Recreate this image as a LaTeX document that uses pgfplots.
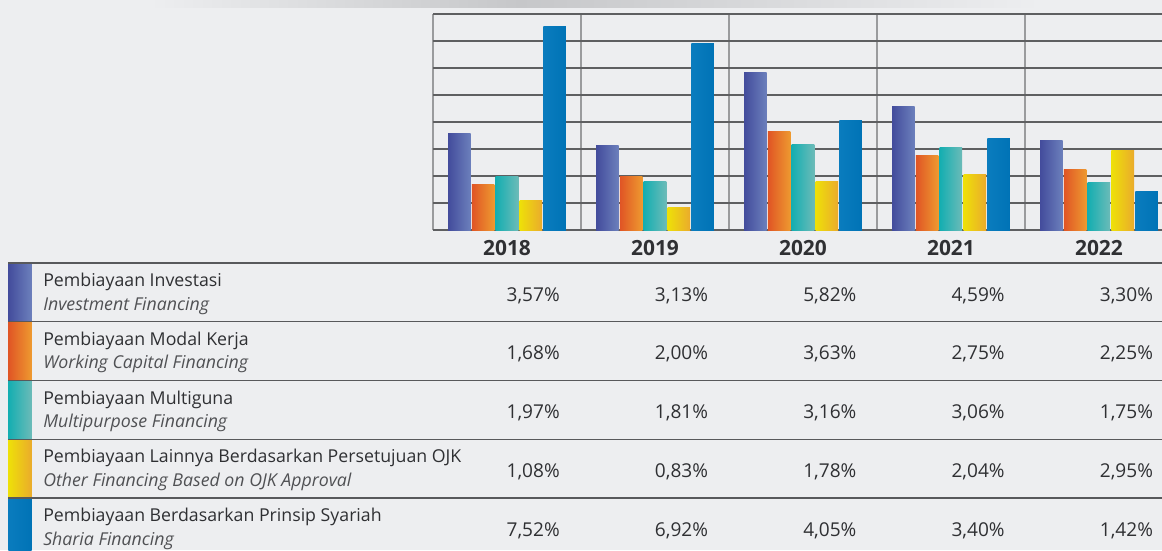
\documentclass[border=0pt]{standalone}
\usepackage{fontspec}
\setmainfont{Open Sans}
\usepackage{pgfplots}
\usepackage{pgfplotstable}
\pgfplotsset{compat=1.18}

\definecolor{bg}{HTML}{EDEEF0}
\definecolor{band}{HTML}{C6C7C9}
\definecolor{gridc}{HTML}{5E5F61}
\definecolor{sepc}{HTML}{9A9B9D}
\definecolor{linec}{HTML}{58595B}
\definecolor{txt}{HTML}{2F3033}
\definecolor{txti}{HTML}{505154}
\definecolor{invL}{HTML}{434C9C}
\definecolor{invR}{HTML}{6C80BC}
\definecolor{wcL}{HTML}{E05525}
\definecolor{wcR}{HTML}{EE9A30}
\definecolor{muL}{HTML}{14AEB1}
\definecolor{muR}{HTML}{6CBBB8}
\definecolor{otL}{HTML}{EEE008}
\definecolor{otR}{HTML}{EAAB2C}
\definecolor{shL}{HTML}{0A7CBE}
\definecolor{shR}{HTML}{0073B6}

% NPF ratio per financing type (%)
\pgfplotstableread{
x inv  wc   mu   ot   sh
0 3.57 1.68 1.97 1.08 7.52
1 3.13 2.00 1.81 0.83 6.92
2 5.82 3.63 3.16 1.78 4.05
3 4.59 2.75 3.06 2.04 3.40
4 3.30 2.25 1.75 2.95 1.42
}\npf

\begin{document}
\begin{tikzpicture}[x=0.75pt,y=-0.75pt]
\path[use as bounding box] (0,0) rectangle (1162,550);
\clip (0,0) rectangle (1162,550);
\fill[bg] (0,0) rectangle (1162,550);
\shade[left color=bg, right color=band] (150,0) rectangle (520,7);
\shade[left color=band, right color=bg] (520,0) rectangle (1040,7);

\begin{axis}[
    at={(324.75pt,-172.5pt)}, anchor=south west,
    scale only axis, width=546.75pt, height=162pt,
    xmin=-0.5, xmax=4.426, ymin=0, ymax=8,
    axis line style={draw=none},
    major tick length=0pt, minor tick length=0pt,
    ytick={0,...,8}, yticklabels={},
    ymajorgrids, major grid style={gridc, line width=0.9pt},
    xtick={0,...,4}, xticklabels={2018,2019,2020,2021,2022},
    minor xtick={-0.5,0.5,1.5,2.5,3.5}, xminorgrids,
    minor grid style={sepc, line width=1.4pt},
    xticklabel style={font=\fontsize{15.7}{18}\selectfont\bfseries, text=txt, anchor=base, yshift=-18.75pt},
    ybar, bar width=16.9pt,
    unbounded coords=discard,
]
% one plot per bar so each bar gets its own left-to-right gradient
\pgfplotsinvokeforeach{0,...,4}{
\addplot[draw=none, left color=invL, right color=invR, bar shift=-35.68pt, x filter/.expression={abs(x-#1)<0.1 ? x : nan}] table[x=x,y=inv] {\npf};
\addplot[draw=none, left color=wcL, right color=wcR, bar shift=-17.84pt, x filter/.expression={abs(x-#1)<0.1 ? x : nan}] table[x=x,y=wc] {\npf};
\addplot[draw=none, left color=muL, right color=muR, bar shift=0pt, x filter/.expression={abs(x-#1)<0.1 ? x : nan}] table[x=x,y=mu] {\npf};
\addplot[draw=none, left color=otL, right color=otR, bar shift=17.84pt, x filter/.expression={abs(x-#1)<0.1 ? x : nan}] table[x=x,y=ot] {\npf};
\addplot[draw=none, left color=shL, right color=shR, bar shift=35.68pt, x filter/.expression={abs(x-#1)<0.1 ? x : nan}] table[x=x,y=sh] {\npf};
}
\end{axis}

% table below the chart
\foreach \i/\cl/\cr in {0/invL/invR, 1/wcL/wcR, 2/muL/muR, 3/otL/otR, 4/shL/shR}
  \shade[left color=\cl, right color=\cr] (8.3,{263+58.75*\i}) rectangle (31.7,{263+58.75*(\i+1)});
\foreach \i in {0,...,4}
  \draw[linec, line width=1.1pt] (8,{263+58.75*\i}) -- (1162,{263+58.75*\i});

\foreach \i/\a/\b in {0/Pembiayaan Investasi/Investment Financing,
    1/Pembiayaan Modal Kerja/Working Capital Financing,
    2/Pembiayaan Multiguna/Multipurpose Financing,
    3/Pembiayaan Lainnya Berdasarkan Persetujuan OJK/Other Financing Based on OJK Approval,
    4/Pembiayaan Berdasarkan Prinsip Syariah/Sharia Financing} {
  \node[anchor=base west, inner sep=0pt, text=txt, font=\fontsize{13.3}{16}\selectfont] at (43,{263+58.75*\i+23.7}) {\a};
  \node[anchor=base west, inner sep=0pt, text=txti, font=\fontsize{13.3}{16}\selectfont\itshape] at (43,{263+58.75*\i+47}) {\b};
}

\foreach \i/\va/\vb/\vc/\vd/\ve in {0/{3,57}/{3,13}/{5,82}/{4,59}/{3,30},
    1/{1,68}/{2,00}/{3,63}/{2,75}/{2,25},
    2/{1,97}/{1,81}/{3,16}/{3,06}/{1,75},
    3/{1,08}/{0,83}/{1,78}/{2,04}/{2,95},
    4/{7,52}/{6,92}/{4,05}/{3,40}/{1,42}} {
  \foreach \j/\v in {0/{\va},1/{\vb},2/{\vc},3/{\vd},4/{\ve}}
    \node[anchor=base east, inner sep=0pt, text=txt, font=\fontsize{14.3}{17}\selectfont] at ({560+148.3*\j},{263+58.75*\i+38}) {\v\%};
}
\end{tikzpicture}
\end{document}
